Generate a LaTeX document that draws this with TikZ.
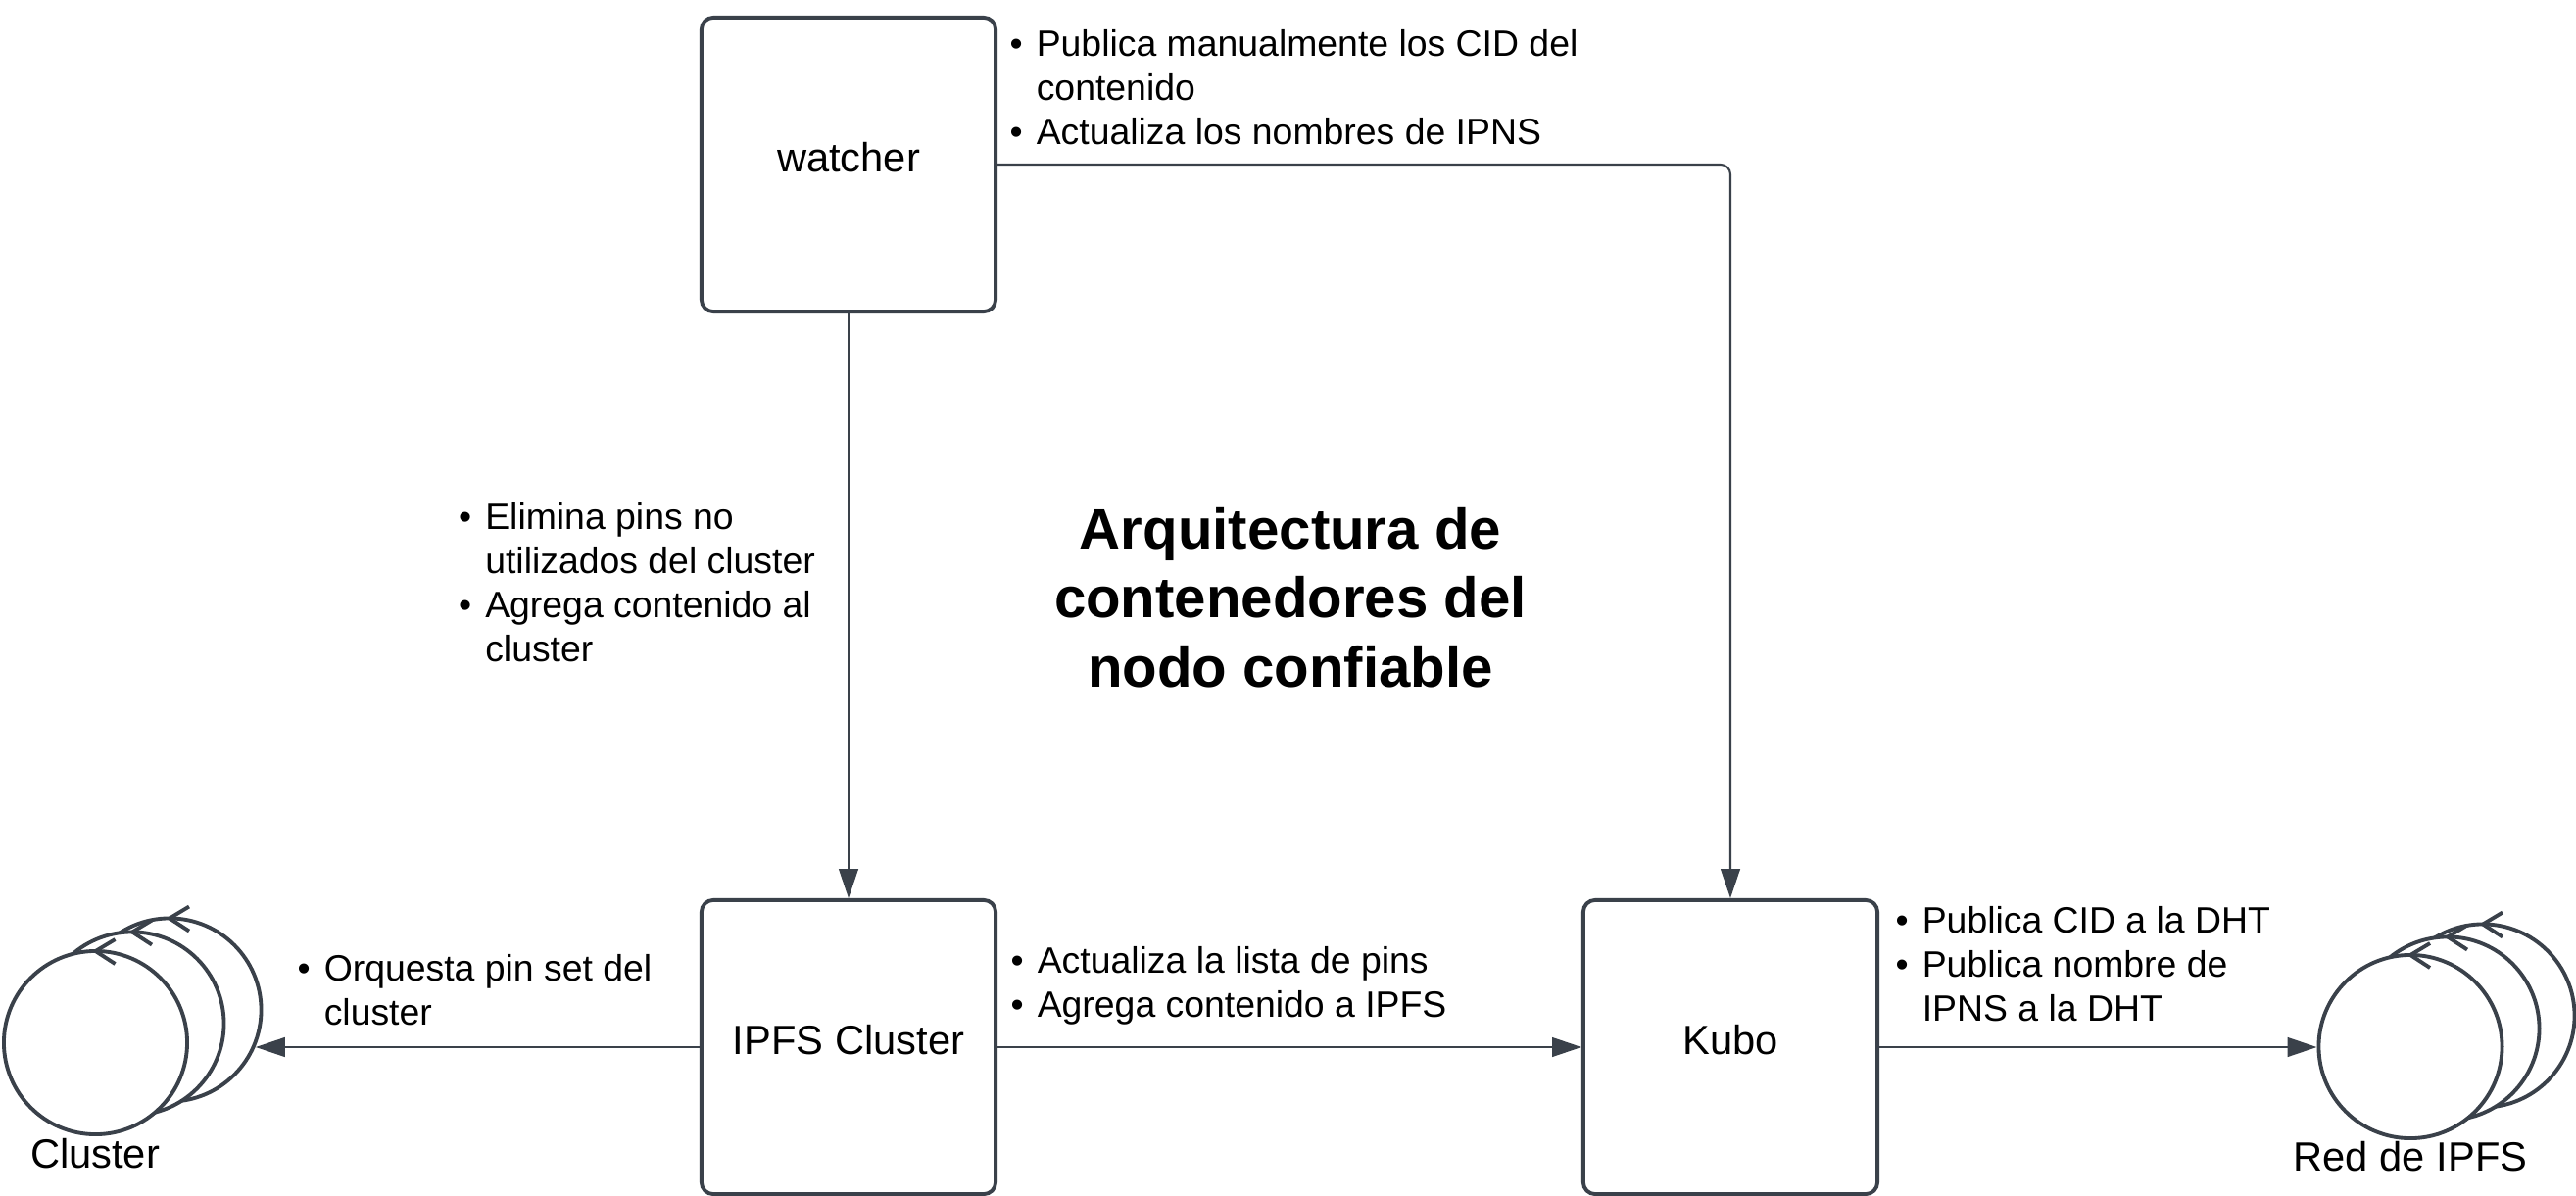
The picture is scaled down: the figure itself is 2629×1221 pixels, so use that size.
\documentclass[tikz,border=0pt]{standalone}
\usepackage{fontspec}
\setmainfont{Liberation Sans}
\usetikzlibrary{arrows.meta}
\definecolor{linegray}{HTML}{3A414A}
\newcommand{\bul}{\makebox[7.7pt][l]{\textbullet}}
\newcommand{\ind}{\hspace*{7.7pt}}
\begin{document}
\begin{tikzpicture}[x=0.01cm,y=-0.01cm,
    arrow/.style = {draw=linegray,line width=0.6pt,-{Triangle[length=8.5pt,width=5.6pt]}},
    box/.style = {draw=linegray,line width=1.1pt,rounded corners=0.12cm,minimum size=3cm,inner sep=0pt,text height=9pt,text depth=5pt,font=\fontsize{11.85}{14}\selectfont},
    ring/.style = {circle,draw=linegray,fill=white,line width=1.1pt,minimum size=1.87cm,inner sep=0pt},
    note/.style = {anchor=west,align=left,inner sep=0pt,font=\fontsize{10.63}{12.8}\selectfont}]
                \useasboundingbox (0,0) rectangle (2629,1221);

                \node[box] (watcher) at (866,168) {watcher};
                \node[box] (ipfs) at (866,1069) {IPFS Cluster};
                \node[box] (kubo) at (1766,1069) {Kubo};

                \foreach \ringname/\ringx/\ringy in {clusterback/173/1031,clustermid/135/1045,clusterfront/97.5/1064.5,
                    redback/2534/1037,redmid/2498/1050,redfront/2460/1068.5} {
                    \node[ring] (\ringname) at (\ringx,\ringy) {};
                    \draw[linegray,line width=1.1pt] (\ringname.north) ++(20,-10) -- ++(-20,12) -- ++(20,13);
                }

                \draw[arrow] (watcher.south) -- (ipfs.north);
                \draw[arrow,rounded corners=0.1cm] (watcher.east) -| (kubo.north);
                \draw[arrow] (ipfs.east) -- (kubo.west);
                \draw[arrow] (ipfs.west) -- (ipfs.west -| clusterback.-23);
                \draw[arrow] (kubo.east) -- (kubo.east -| redfront.west);

                \node[note] (notewatcher) at (1030,89) {\bul Publica manualmente los CID del\\\ind contenido\\\bul Actualiza los nombres de IPNS};
                \node[note] (notepins) at (467.5,594.5) {\bul Elimina pins no\\\ind utilizados del cluster\\\bul Agrega contenido al\\\ind cluster};
                \node[note] (noteipfs) at (1031,1006.5) {\bul Actualiza la lista de pins\\\bul Agrega contenido a IPFS};
                \node[note] (notekubo) at (1934,984) {\bul Publica CID a la DHT\\\bul Publica nombre de\\\ind IPNS a la DHT};
                \node[note] (notecluster) at (303,1011) {\bul Orquesta pin set del\\\ind cluster};

                \node[font=\fontsize{11.85}{14}\selectfont,inner sep=0pt] (clusterlabel) at (97,1178) {Cluster};
                \node[font=\fontsize{11.85}{14}\selectfont,inner sep=0pt] (redlabel) at (2460,1181) {Red de IPFS};
                \node[align=center,inner sep=0pt,font=\fontsize{16.55}{20}\selectfont\bfseries] (title) at (1317,610) {Arquitectura de\\contenedores del\\nodo confiable};
            \end{tikzpicture}
\end{document}
